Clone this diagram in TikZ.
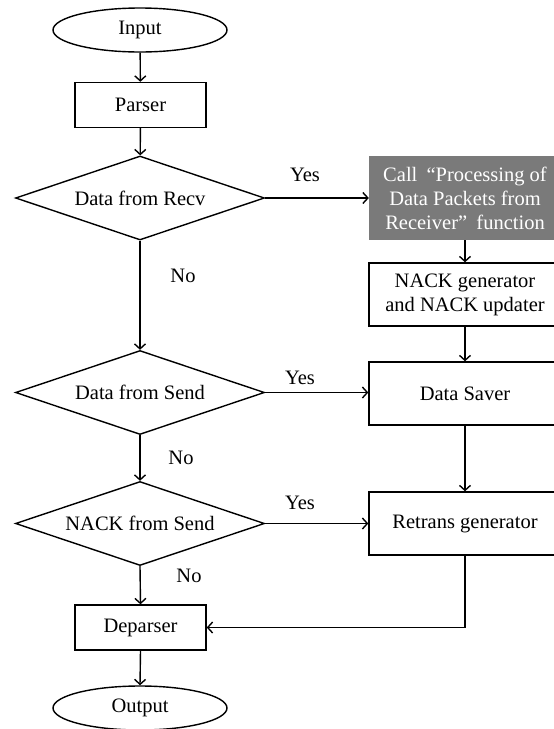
\documentclass[tikz,border=0pt]{standalone}
\usepackage{fontspec}
\setmainfont{Liberation Serif}
\usetikzlibrary{shapes.geometric,arrows.meta}
\definecolor{boxgray}{RGB}{122,122,122}
\tikzset{
  base/.style={draw=black, line width=1.4pt, inner sep=0pt, align=center,
    font=\fontsize{20.5}{24}\selectfont},
  term/.style={base, ellipse, minimum width=174pt, minimum height=44pt},
  proc/.style={base, rectangle, minimum width=131pt, minimum height=45pt},
  wide/.style={base, rectangle, minimum width=192pt, minimum height=63pt},
  grayproc/.style={rectangle, fill=boxgray, text=white, inner sep=0pt, align=center,
    minimum width=192pt, minimum height=84pt, font=\fontsize{20.5}{24}\selectfont},
  decision/.style={base, diamond, aspect=3, minimum width=249pt, minimum height=84pt},
  arr/.style={line width=1.4pt, -{Straight Barb[length=5pt,width=11pt,line width=1.4pt]}},
  lbl/.style={font=\fontsize{20.5}{24}\selectfont, inner sep=0pt}
}
\begin{document}
\begin{tikzpicture}[x=1pt,y=-1pt]
\useasboundingbox (0,0) rectangle (554,729);
\clip (0,0) rectangle (554,729);
\fill[white] (0,0) rectangle (554,729);
\node[term] (in) at (140,30) {Input};
\node[proc] (parser) at (140.5,105) {Parser};
\node[decision] (d1) at (140,198) {Data from Recv};
\node[grayproc] (call) at (465,198) {Call\hspace{0.45em}“Processing of\\Data Packets from\\Receiver”\hspace{0.45em}function};
\node[wide] (nack) at (465,294.5) {NACK generator\\and NACK updater};
\node[decision] (d2) at (140,392.5) {Data from Send};
\node[wide] (saver) at (465,393.5) {Data Saver};
\node[decision] (d3) at (140,523.5) {NACK from Send};
\node[wide] (retrans) at (465,523.5) {Retrans generator};
\node[proc] (deparser) at (140.5,627.5) {Deparser};
\node[term] (out) at (140,708) {Output};

\node[lbl] (yes1) at (305,175) {Yes};
\node[lbl] (no1) at (183,276) {No};
\node[lbl] (yes2) at (300,378) {Yes};
\node[lbl] (no2) at (181,458) {No};
\node[lbl] (yes3) at (300,503) {Yes};
\node[lbl] (no3) at (189,576) {No};

\draw[arr] (in) -- (parser);
\draw[arr] (parser) -- (d1);
\draw[arr] (d1.east) -- (call.west);
\draw[arr] (d1.south) -- (d2.north);
\draw[arr] (call.south) -- (nack.north);
\draw[arr] (nack.south) -- (saver.north);
\draw[arr] (d2.east) -- (d2.east -| saver.west);
\draw[arr] (d2.south) -- (d3.north);
\draw[arr] (saver.south) -- (retrans.north);
\draw[arr] (d3.east) -- (d3.east -| retrans.west);
\draw[arr] (d3.south) -- (deparser.north);
\draw[arr] (retrans.south) |- (deparser.east);
\draw[arr] (deparser.south) -- (out.north);
\end{tikzpicture}
\end{document}
